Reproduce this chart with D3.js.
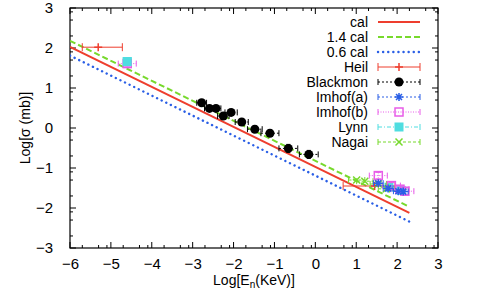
<!DOCTYPE html>
<html><head><meta charset="utf-8">
<script src="https://cdn.jsdelivr.net/npm/d3@7"></script>
<style>body{margin:0;background:#fff}svg text{font-family:"Liberation Sans",Arial,sans-serif}</style>
</head><body><svg id="c" width="498" height="295"></svg>
<script>
// ---- data ----
const lineX = [-6, 2.3];
const calY = [2.03, -2.12];
const cal14Y = [2.18, -1.97];
const cal06Y = [1.81, -2.34];
const heilX = [-5.31, 1.45], heilY = [2.02, -1.45], heilXlo = [-5.7, 0.68], heilXhi = [-4.72, 1.95];
const blackX = [-2.78, -2.59, -2.43, -2.25, -2.06, -1.80, -1.48, -1.11, -0.66, -0.16];
const blackY = [0.63, 0.49, 0.49, 0.30, 0.39, 0.15, -0.03, -0.13, -0.51, -0.66];
const blackXerr = [0.12, 0.12, 0.12, 0.14, 0.15, 0.16, 0.18, 0.22, 0.23, 0.23];
const blackYerr = [0.07, 0.07, 0.07, 0.07, 0.07, 0.08, 0.08, 0.08, 0.1, 0.1];
const imaX = [1.54, 1.78, 2.03, 2.15], imaY = [-1.38, -1.51, -1.58, -1.59];
const imbX = [-4.6, 1.54, 1.86, 2.07, 2.19], imbY = [1.61, -1.19, -1.44, -1.53, -1.58];
const lynnX = [-4.6, 1.8, 2.1], lynnY = [1.66, -1.48, -1.56];
const nagaiX = [1.01, 1.21, 1.54, 1.74], nagaiY = [-1.30, -1.33, -1.40, -1.52];
const xTicks = [-6, -5, -4, -3, -2, -1, 0, 1, 2, 3];
const yTicks = [-3, -2, -1, 0, 1, 2, 3];
const legendLabels = ["cal", "1.4 cal", "0.6 cal", "Heil", "Blackmon", "Imhof(a)", "Imhof(b)", "Lynn", "Nagai"];

// ---- styles ----
const RED = "#ee3e2e", GREEN = "#77d92c", BLUE = "#2a5fe6", MAG = "#e85ce8", CYAN = "#4fdde0";
const svg = d3.select("#c");
const x = d3.scaleLinear().domain([-6, 3]).range([70, 438]);
const y = d3.scaleLinear().domain([-3, 3]).range([248, 8]);

// axes frame & ticks
const minorOff = [Math.log10(2), Math.log10(5), Math.log10(8)];
const g = svg.append("g");
g.append("rect").attr("x", x(-6)).attr("y", y(3)).attr("width", x(3) - x(-6)).attr("height", y(-3) - y(3))
  .attr("fill", "none").attr("stroke", "#000").attr("stroke-width", 1.2);
function tick(x1, y1, x2, y2) { g.append("line").attr("x1", x1).attr("y1", y1).attr("x2", x2).attr("y2", y2).attr("stroke", "#000").attr("stroke-width", 1); }
xTicks.forEach((t, i) => {
  tick(x(t), y(-3), x(t), y(-3) - 6); tick(x(t), y(3), x(t), y(3) + 6);
  if (i < xTicks.length - 1) minorOff.forEach(o => { tick(x(t + o), y(-3), x(t + o), y(-3) - 3); tick(x(t + o), y(3), x(t + o), y(3) + 3); });
});
yTicks.forEach((t, i) => {
  tick(x(-6), y(t), x(-6) + 6, y(t)); tick(x(3), y(t), x(3) - 6, y(t));
  if (i < yTicks.length - 1) minorOff.forEach(o => { tick(x(-6), y(t + o), x(-6) + 3, y(t + o)); tick(x(3), y(t + o), x(3) - 3, y(t + o)); });
});
const xa = d3.axisBottom(x).tickValues(xTicks).tickSize(0).tickPadding(8).tickFormat(d3.format("d"));
const xg = svg.append("g").attr("transform", `translate(0,${y(-3)})`).call(xa);
const ya = d3.axisLeft(y).tickValues(yTicks).tickSize(0).tickPadding(17).tickFormat(d3.format("d"));
const yg = svg.append("g").attr("transform", `translate(${x(-6)},0)`).call(ya);
[xg, yg].forEach(a => { a.select(".domain").remove(); a.selectAll("text").attr("font-size", 15).attr("fill", "#000").attr("font-family", "Liberation Sans, Arial"); });
xg.selectAll("text").attr("dy", "0.85em");

// axis titles
const xt = svg.append("text").attr("x", 254).attr("y", 285).attr("text-anchor", "middle").attr("font-size", 14);
xt.append("tspan").text("Log[E");
xt.append("tspan").attr("font-size", 10).attr("dy", 3).text("n");
xt.append("tspan").attr("dy", -3).text("(KeV)]");
svg.append("text").attr("transform", `translate(30,128) rotate(-90)`).attr("text-anchor", "middle").attr("font-size", 14).text("Log[σ (mb)]");

// clip
svg.append("clipPath").attr("id", "clp").append("rect").attr("x", 70).attr("y", 8).attr("width", 368).attr("height", 240);
const plot = svg.append("g").attr("clip-path", "url(#clp)");
const line = d3.line().x(d => x(d[0])).y(d => y(d[1]));

// calc lines
plot.append("path").attr("d", line(d3.zip(lineX, calY))).attr("stroke", RED).attr("stroke-width", 2).attr("fill", "none");
plot.append("path").attr("d", line(d3.zip(lineX, cal14Y))).attr("stroke", GREEN).attr("stroke-width", 2).attr("stroke-dasharray", "6,3").attr("fill", "none");
plot.append("path").attr("d", line(d3.zip(lineX, cal06Y))).attr("stroke", BLUE).attr("stroke-width", 2.4).attr("stroke-dasharray", "0.1,5").attr("stroke-linecap", "round").attr("fill", "none");

// markers
function marker(sel, type, cx, cy, color) {
  const s = sel.append("g").attr("transform", `translate(${cx},${cy})`);
  if (type === "plus") {
    s.append("path").attr("d", "M-4,0H4M0,-4V4").attr("stroke", color).attr("stroke-width", 1.5);
  } else if (type === "circle") {
    s.append("circle").attr("r", 4.5).attr("fill", "#000");
  } else if (type === "star") {
    s.append("path").attr("d", "M-4,0H4M0,-4V4M-3,-3L3,3M-3,3L3,-3").attr("stroke", color).attr("stroke-width", 1.5);
  } else if (type === "osq") {
    s.append("rect").attr("x", -4).attr("y", -4).attr("width", 8).attr("height", 8).attr("fill", "none").attr("stroke", color).attr("stroke-width", 1.5);
  } else if (type === "fsq") {
    s.append("rect").attr("x", -4.5).attr("y", -4.5).attr("width", 9).attr("height", 9).attr("fill", color);
  } else if (type === "cross") {
    s.append("path").attr("d", "M-3.5,-3.5L3.5,3.5M-3.5,3.5L3.5,-3.5").attr("stroke", color).attr("stroke-width", 1.5);
  }
}
function errbar(sel, x1, x2, yy, color, dash, cap) {
  sel.append("line").attr("x1", x1).attr("x2", x2).attr("y1", yy).attr("y2", yy).attr("stroke", color).attr("stroke-width", 1).attr("stroke-dasharray", dash);
  sel.append("line").attr("x1", x1).attr("x2", x1).attr("y1", yy - cap).attr("y2", yy + cap).attr("stroke", color).attr("stroke-width", 1);
  sel.append("line").attr("x1", x2).attr("x2", x2).attr("y1", yy - cap).attr("y2", yy + cap).attr("stroke", color).attr("stroke-width", 1);
}
function verr(sel, xx, y1, y2, color, dash, cap) {
  sel.append("line").attr("x1", xx).attr("x2", xx).attr("y1", y1).attr("y2", y2).attr("stroke", color).attr("stroke-width", 1).attr("stroke-dasharray", dash);
  sel.append("line").attr("x1", xx - cap).attr("x2", xx + cap).attr("y1", y1).attr("y2", y1).attr("stroke", color).attr("stroke-width", 1);
  sel.append("line").attr("x1", xx - cap).attr("x2", xx + cap).attr("y1", y2).attr("y2", y2).attr("stroke", color).attr("stroke-width", 1);
}

// Heil
heilX.forEach((v, i) => {
  errbar(plot, x(heilXlo[i]), x(heilXhi[i]), y(heilY[i]), RED, null, 4);
  marker(plot, "plus", x(v), y(heilY[i]), RED);
});
// Blackmon
blackX.forEach((v, i) => {
  errbar(plot, x(v - blackXerr[i]), x(v + blackXerr[i]), y(blackY[i]), "#000", "2,2", 3);
  verr(plot, x(v), y(blackY[i] + blackYerr[i]), y(blackY[i] - blackYerr[i]), "#000", "2,2", 2);
  marker(plot, "circle", x(v), y(blackY[i]), "#000");
});
// Lynn
lynnX.forEach((v, i) => {
  marker(plot, "fsq", x(v), y(lynnY[i]), CYAN);
});
// Nagai
nagaiX.forEach((v, i) => {
  errbar(plot, x(v - 0.2), x(v + 0.2), y(nagaiY[i]), GREEN, "3,2", 3);
  marker(plot, "cross", x(v), y(nagaiY[i]), GREEN);
});
// Imhof(b)
imbX.forEach((v, i) => {
  errbar(plot, x(v - 0.22), x(v + 0.22), y(imbY[i]), MAG, "1,1.5", 3);
  verr(plot, x(v), y(imbY[i] + 0.08), y(imbY[i] - 0.08), MAG, "1,1.5", 3);
  marker(plot, "osq", x(v), y(imbY[i]), MAG);
});
// Imhof(a)
imaX.forEach((v, i) => {
  errbar(plot, x(v - 0.12), x(v + 0.12), y(imaY[i]), BLUE, "2,2", 3);
  marker(plot, "star", x(v), y(imaY[i]), BLUE);
});
// Lynn on top at low energy
marker(plot, "fsq", x(lynnX[0]), y(lynnY[0]), CYAN);

// legend
const lg = svg.append("g");
const rowY = i => 22 + i * 15;
const lx1 = 378, lx2 = 420, lxc = 399;
legendLabels.forEach((lab, i) => {
  lg.append("text").attr("x", 368).attr("y", rowY(i)).attr("dy", "0.35em").attr("text-anchor", "end").attr("font-size", 14).text(lab);
});
function lline(i, color, dash, w, cap) {
  const l = lg.append("line").attr("x1", lx1).attr("x2", lx2).attr("y1", rowY(i)).attr("y2", rowY(i)).attr("stroke", color).attr("stroke-width", w || 1);
  if (dash) l.attr("stroke-dasharray", dash);
  if (cap) l.attr("stroke-linecap", cap);
}
lline(0, RED, null, 2);
lline(1, GREEN, "6,3", 2);
lline(2, BLUE, "0.1,5", 2.4, "round");
errbar(lg, lx1, lx2, rowY(3), RED, null, 4); marker(lg, "plus", lxc, rowY(3), RED);
errbar(lg, lx1, lx2, rowY(4), "#000", "2,2", 3); marker(lg, "circle", lxc, rowY(4), "#000");
errbar(lg, lx1, lx2, rowY(5), BLUE, "2,2", 3); marker(lg, "star", lxc, rowY(5), BLUE);
errbar(lg, lx1, lx2, rowY(6), MAG, "1,1.5", 3); marker(lg, "osq", lxc, rowY(6), MAG);
errbar(lg, lx1, lx2, rowY(7), CYAN, "4,2,1,2", 3); marker(lg, "fsq", lxc, rowY(7), CYAN);
errbar(lg, lx1, lx2, rowY(8), GREEN, "3,2", 3); marker(lg, "cross", lxc, rowY(8), GREEN);
</script></body></html>
